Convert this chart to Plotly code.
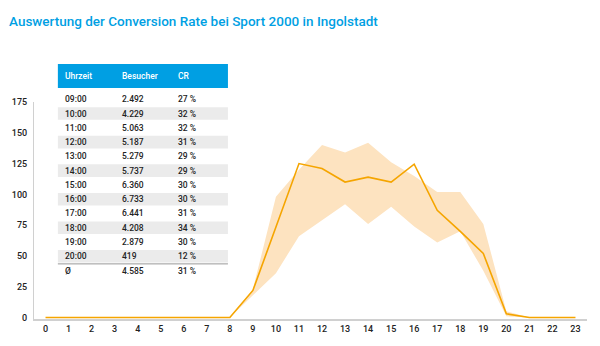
import plotly.graph_objects as go

hours = list(range(24))
cr_line = [0, 0, 0, 0, 0, 0, 0, 0, 0, 22, 73, 125, 121, 110, 114, 110, 124.5, 87, 70, 52, 3, 0, 0, 0]
band_upper = [0, 0, 0, 0, 0, 0, 0, 0, 0, 23, 98, 120, 140, 134, 142, 126, 115, 102, 102, 76, 5, 0, 0, 0]
band_lower = [0, 0, 0, 0, 0, 0, 0, 0, 0, 18, 36, 66, 79, 92, 76, 90, 74, 61, 70, 38, 1, 0, 0, 0]

table_header = ["Uhrzeit", "Besucher", "CR"]
table_time = ["09:00", "10:00", "11:00", "12:00", "13:00", "14:00", "15:00", "16:00",
              "17:00", "18:00", "19:00", "20:00", "Ø"]
table_visitors = ["2.492", "4.229", "5.063", "5.187", "5.279", "5.737", "6.360", "6.733",
                  "6.441", "4.208", "2.879", "419", "4.585"]
table_cr = ["27 %", "32 %", "32 %", "31 %", "29 %", "29 %", "30 %", "30 %",
            "31 %", "34 %", "30 %", "12 %", "31 %"]

FONT = "Roboto, Arial, sans-serif"
BLUE = "#009fe3"
ORANGE = "#f5a500"
PEACH = "#fde3c0"

# plot area in pixels
L, R, T, B = 31, 587, 102, 319.5
YMIN, YMAX = -1.2, 175
def px(x):
    return (x - L) / (R - L)
def py(y):
    return (B - y) / (B - T)

fig = go.Figure()
fig.add_trace(go.Scatter(x=hours, y=band_upper, mode="lines", line=dict(width=0, color=PEACH),
                         hoverinfo="skip", showlegend=False))
fig.add_trace(go.Scatter(x=hours, y=band_lower, mode="lines", line=dict(width=0, color=PEACH),
                         fill="tonexty", fillcolor=PEACH, hoverinfo="skip", showlegend=False))
fig.add_trace(go.Scatter(x=hours, y=cr_line, mode="lines", line=dict(width=1.6, color=ORANGE),
                         showlegend=False, name="CR"))

shapes = []
annotations = []
tx0, tx1 = 55, 226
shapes.append(dict(type="rect", xref="paper", yref="paper", x0=px(tx0), x1=px(tx1),
                   y0=py(88), y1=py(64), fillcolor=BLUE, line=dict(width=0), layer="above"))
col_x = [60, 117, 174]
for cx, txt in zip(col_x, table_header):
    annotations.append(dict(xref="paper", yref="paper", x=px(cx), y=py(76), text=txt,
                            showarrow=False, xanchor="left", yanchor="middle",
                            font=dict(family=FONT, size=8.5, color="white", weight=500)))
row0, pitch = 99.3, 14.3
for i in range(len(table_time)):
    cy = row0 + i * pitch
    if i % 2 == 1 and i < len(table_time) - 1:
        shapes.append(dict(type="rect", xref="paper", yref="paper", x0=px(tx0), x1=px(tx1),
                           y0=py(cy + 6.3), y1=py(cy - 6.3), fillcolor="#ebebeb",
                           line=dict(width=0), layer="above"))
    for cx, col in zip(col_x, [table_time, table_visitors, table_cr]):
        annotations.append(dict(xref="paper", yref="paper", x=px(cx), y=py(cy), text=col[i],
                                showarrow=False, xanchor="left", yanchor="middle",
                                font=dict(family=FONT, size=8.5, color="#222", weight=500)))
sep_y = row0 + (len(table_time) - 1.5) * pitch + 0.5
shapes.append(dict(type="line", xref="paper", yref="paper", x0=px(tx0), x1=px(tx1),
                   y0=py(sep_y), y1=py(sep_y), line=dict(color="#999", width=1), layer="above"))

fig.update_layout(
    width=600, height=346,
    margin=dict(l=L, r=600 - R, t=T, b=346 - B),
    paper_bgcolor="white", plot_bgcolor="white",
    title=dict(text="Auswertung der Conversion Rate bei Sport 2000 in Ingolstadt",
               xref="container", yref="container", x=9 / 600, y=1 - 21 / 346,
               xanchor="left", yanchor="middle",
               font=dict(family=FONT, size=13.5, color=BLUE, weight=500)),
    xaxis=dict(range=[-0.5, 23.5], tickmode="array", tickvals=hours,
               ticktext=[str(h) for h in hours], showgrid=False, zeroline=False,
               showline=True, linecolor="#d0d0d0", linewidth=1.5, ticks="",
               layer="below traces",
               tickfont=dict(family=FONT, size=9, color="#222", weight=500)),
    yaxis=dict(range=[YMIN, YMAX], tickvals=[0, 25, 50, 75, 100, 125, 150, 175],
               showgrid=False, zeroline=False, showline=True, linecolor="#d0d0d0",
               linewidth=1, ticks="", ticklabelstandoff=4, layer="below traces",
               tickfont=dict(family=FONT, size=9, color="#222", weight=500)),
    shapes=shapes, annotations=annotations,
)
fig.write_html("out.html")
